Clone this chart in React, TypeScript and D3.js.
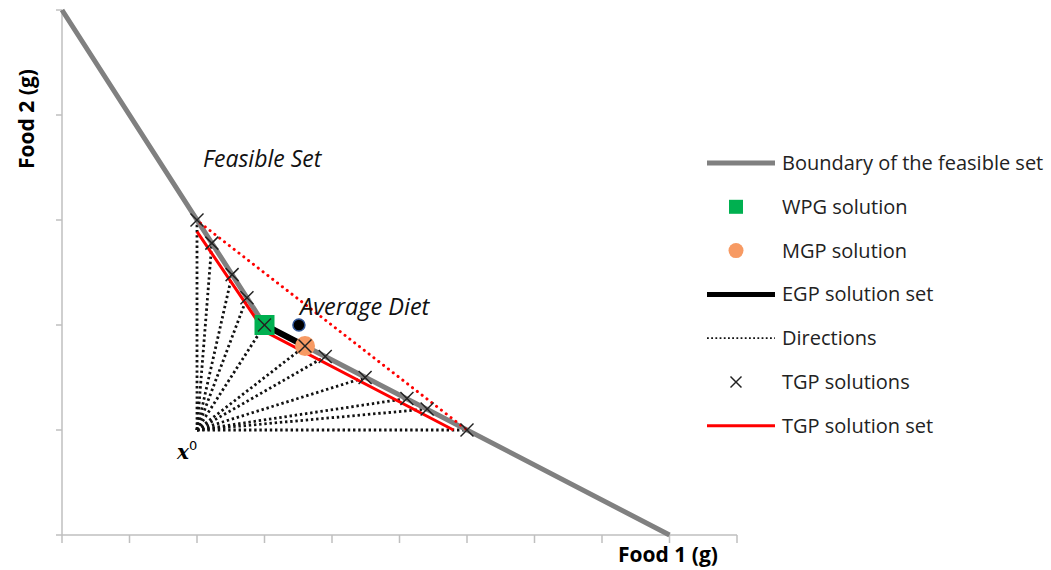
import React from "react";
import * as d3 from "d3";

// feasible set boundary (food 1, food 2)
const boundary: [number, number][] = [
  [0, 5],
  [3, 2],
  [9, 0],
];
const x0: [number, number] = [2, 1];
// TGP solutions along the boundary
const tgpPoints: [number, number][] = [
  [2, 3],
  [2.22, 2.78],
  [2.52, 2.48],
  [2.74, 2.26],
  [3, 2],
  [3.6, 1.8],
  [3.9, 1.7],
  [4.49, 1.5],
  [5.11, 1.3],
  [5.41, 1.2],
  [6, 1],
];
const tgpSet: [number, number][] = [
  [2, 2.89],
  [3, 1.94],
  [5.8, 1.0],
];
const egpSet: [number, number][] = [
  [3, 2],
  [3.6, 1.8],
];
const redDotted: [number, number][] = [
  [2.05, 2.97],
  [6, 1],
];
const wpg: [number, number] = [3, 2];
const mgp: [number, number] = [3.6, 1.8];
const avgDiet: [number, number] = [3.51, 2.0];
const xTicks = d3.range(0, 11);
const yTicks = d3.range(0, 6);
const legendItems = [
  "Boundary of the feasible set",
  "WPG solution",
  "MGP solution",
  "EGP solution set",
  "Directions",
  "TGP solutions",
  "TGP solution set",
];

const FONT = "'Open Sans', 'Liberation Sans', sans-serif";

export default function App() {
  const width = 1051;
  const height = 570;
  const x = d3.scaleLinear().domain([0, 10]).range([62, 737]);
  const y = d3.scaleLinear().domain([0, 5]).range([535, 10]);
  const line = d3
    .line<[number, number]>()
    .x((d) => x(d[0]))
    .y((d) => y(d[1]));

  const cross = (cx: number, cy: number, s: number, key?: any) => (
    <g key={key} stroke="#222" strokeWidth={1.5}>
      <line x1={cx - s} y1={cy - s} x2={cx + s} y2={cy + s} />
      <line x1={cx - s} y1={cy + s} x2={cx + s} y2={cy - s} />
    </g>
  );

  const legendY = (i: number) => 163 + i * 43.8;
  const lx1 = 707;
  const lx2 = 775;
  const lmid = (lx1 + lx2) / 2 - 5;

  return (
    <svg width={width} height={height} style={{ position: "absolute", left: 0, top: 0 }}>
      <rect width={width} height={height} fill="#fff" />
      {/* axes */}
      <g stroke="#bfbfbf" strokeWidth={1.5}>
        <line x1={x(0)} x2={x(0)} y1={y(5)} y2={y(0)} />
        <line x1={x(0)} x2={x(10)} y1={y(0)} y2={y(0)} />
        {yTicks.map((t) => (
          <line key={"y" + t} x1={x(0) - 6} x2={x(0)} y1={y(t)} y2={y(t)} />
        ))}
        {xTicks.map((t) => (
          <line key={"x" + t} x1={x(t)} x2={x(t)} y1={y(0)} y2={y(0) + 8} />
        ))}
      </g>
      <text
        transform={`translate(34,119) rotate(-90)`}
        textAnchor="middle"
        fontFamily={FONT}
        fontWeight="bold"
        fontSize={21}
        fill="#000"
      >
        Food 2 (g)
      </text>
      <text x={668} y={562} textAnchor="middle" fontFamily={FONT} fontWeight="bold" fontSize={21} fill="#000">
        Food 1 (g)
      </text>

      {/* directions */}
      {tgpPoints.map((p, i) => (
        <path
          key={"d" + i}
          d={line([x0, p]) || ""}
          stroke="#111"
          strokeWidth={2.8}
          strokeDasharray="2.4 2.8"
          fill="none"
        />
      ))}

      {/* boundary */}
      <path d={line(boundary) || ""} stroke="#808080" strokeWidth={5} fill="none" />
      {/* red dotted */}
      <path
        d={line(redDotted) || ""}
        stroke="#ff0000"
        strokeWidth={3}
        strokeDasharray="0.1 6"
        strokeLinecap="round"
        fill="none"
      />
      {/* EGP */}
      <path d={line(egpSet) || ""} stroke="#000" strokeWidth={6} fill="none" />
      {/* TGP set */}
      <path d={line(tgpSet) || ""} stroke="#ff0000" strokeWidth={3} fill="none" />

      {/* markers */}
      <rect x={x(wpg[0]) - 10} y={y(wpg[1]) - 10} width={20} height={20} fill="#00b050" />
      <circle cx={x(mgp[0])} cy={y(mgp[1])} r={10} fill="#f79a63" />
      <circle cx={x(avgDiet[0])} cy={y(avgDiet[1])} r={6} fill="#000" stroke="#2f5597" strokeWidth={1.5} />
      {tgpPoints.map((p, i) => cross(x(p[0]), y(p[1]), 6.5, "c" + i))}

      {/* annotations */}
      <text x={203} y={167} fontFamily={FONT} fontStyle="italic" fontSize={23} fill="#111">
        Feasible Set
      </text>
      <text x={300} y={315} fontFamily={FONT} fontStyle="italic" fontSize={23.5} fill="#111">
        Average Diet
      </text>
      <text x={177} y={459} fontFamily="'DejaVu Serif', serif" fontStyle="italic" fontWeight="bold" fontSize={20}>
        x
        <tspan dy={-9} fontSize={13} fontStyle="normal" fontWeight="normal" fontFamily="'DejaVu Sans', sans-serif">
          0
        </tspan>
      </text>

      {/* legend */}
      <g>
        <line x1={lx1} x2={lx2} y1={legendY(0)} y2={legendY(0)} stroke="#808080" strokeWidth={5} />
        <rect x={lmid - 7} y={legendY(1) - 7} width={14} height={14} fill="#00b050" />
        <circle cx={lmid} cy={legendY(2)} r={7.5} fill="#f79a63" />
        <line x1={lx1} x2={lx2} y1={legendY(3)} y2={legendY(3)} stroke="#000" strokeWidth={5} />
        <line
          x1={lx1}
          x2={lx2}
          y1={legendY(4)}
          y2={legendY(4)}
          stroke="#111"
          strokeWidth={1.8}
          strokeDasharray="1.8 2.4"
        />
        {cross(lmid, legendY(5), 5.5)}
        <line x1={lx1} x2={lx2} y1={legendY(6)} y2={legendY(6)} stroke="#ff0000" strokeWidth={3} />
        {legendItems.map((t, i) => (
          <text
            key={t}
            x={782}
            y={legendY(i)}
            dy="0.35em"
            fontFamily={FONT}
            fontSize={20}
            fill="#222"
          >
            {t}
          </text>
        ))}
      </g>
    </svg>
  );
}
